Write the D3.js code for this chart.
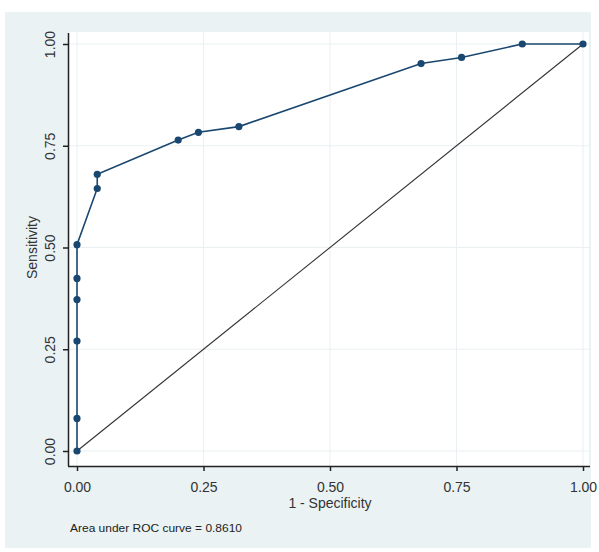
<!DOCTYPE html>
<html>
<head>
<meta charset="utf-8">
<script src="https://cdn.jsdelivr.net/npm/d3@7"></script>
<style>
  body { margin: 0; background: #fff; }
  text { font-family: Arial, "Liberation Sans", sans-serif; }
</style>
</head>
<body>
<div id="chart"></div>
<script>
// data
const fpr = [0, 0, 0, 0, 0, 0, 0.04, 0.04, 0.2, 0.24, 0.32, 0.68, 0.76, 0.88, 1]
const tpr = [0, 0.08, 0.27, 0.372, 0.424, 0.507, 0.645, 0.68, 0.764, 0.783, 0.797, 0.952, 0.967, 1, 1]
const tickValues = [0, 0.25, 0.5, 0.75, 1]
const aucLabel = 'Area under ROC curve = 0.8610'

const points = fpr.map((f, i) => ({ x: f, y: tpr[i] }))

// size
const W = 599
const H = 552
const navy = '#1a476f'

// scale
const x = d3.scaleLinear().domain([0, 1]).range([77, 583])
const y = d3.scaleLinear().domain([0, 1]).range([451, 44])

const svg = d3
  .select('#chart')
  .append('svg')
  .attr('width', W)
  .attr('height', H)

// graph region
svg
  .append('rect')
  .attr('x', 5)
  .attr('y', 12)
  .attr('width', 586)
  .attr('height', 536)
  .attr('fill', '#eaf2f3')

// plot region
svg
  .append('rect')
  .attr('x', 69)
  .attr('y', 32)
  .attr('width', 520)
  .attr('height', 434)
  .attr('fill', '#ffffff')

// grid
const grid = svg.append('g').attr('stroke', '#eaf0f2').attr('stroke-width', 1)
tickValues.forEach(t => {
  grid
    .append('line')
    .attr('x1', 69)
    .attr('x2', 589)
    .attr('y1', y(t))
    .attr('y2', y(t))
  grid
    .append('line')
    .attr('x1', x(t))
    .attr('x2', x(t))
    .attr('y1', 32)
    .attr('y2', 466)
})

// x-axis
const xAxis = svg
  .append('g')
  .attr('transform', 'translate(0, 466)')
  .call(
    d3
      .axisBottom(x)
      .tickValues(tickValues)
      .tickFormat(d3.format('.2f'))
      .tickSize(5)
      .tickPadding(11)
      .tickSizeOuter(0),
  )
xAxis.select('.domain').attr('d', 'M68,0.5H590').attr('stroke', '#222').attr('stroke-width', 1.5)
xAxis.selectAll('.tick line').attr('stroke', '#222').attr('stroke-width', 1.5)
xAxis
  .selectAll('.tick text')
  .attr('font-size', 14)
  .attr('fill', '#333')
  .attr('font-family', 'Arial, "Liberation Sans", sans-serif')

// y-axis
const yAxis = svg
  .append('g')
  .attr('transform', 'translate(68, 0)')
  .call(
    d3
      .axisLeft(y)
      .tickValues(tickValues)
      .tickFormat(d3.format('.2f'))
      .tickSize(5)
      .tickSizeOuter(0),
  )
yAxis.select('.domain').attr('d', 'M0.5,33V466').attr('stroke', '#222').attr('stroke-width', 1.5)
yAxis.selectAll('.tick line').attr('stroke', '#222').attr('stroke-width', 1.5)
yAxis
  .selectAll('.tick text')
  .attr('font-size', 14)
  .attr('fill', '#333')
  .attr('font-family', 'Arial, "Liberation Sans", sans-serif')
  .attr('text-anchor', 'middle')
  .attr('dy', null)
  .attr('x', 0)
  .attr('y', 0)
  .attr('transform', 'translate(-13, 0) rotate(-90)')

// axis titles
svg
  .append('text')
  .attr('text-anchor', 'middle')
  .attr('font-size', 14)
  .attr('fill', '#333')
  .attr('transform', `translate(37, ${y(0.5)}) rotate(-90)`)
  .text('Sensitivity')

svg
  .append('text')
  .attr('text-anchor', 'middle')
  .attr('font-size', 14)
  .attr('fill', '#333')
  .attr('x', x(0.5))
  .attr('y', 508)
  .text('1 - Specificity')

// reference line
svg
  .append('line')
  .attr('x1', x(0))
  .attr('y1', y(0))
  .attr('x2', x(1))
  .attr('y2', y(1))
  .attr('stroke', '#333')
  .attr('stroke-width', 1.1)

// roc curve
const line = d3
  .line()
  .x(d => x(d.x))
  .y(d => y(d.y))

svg
  .append('path')
  .datum(points)
  .attr('d', line)
  .attr('fill', 'none')
  .attr('stroke', navy)
  .attr('stroke-width', 1.6)

svg
  .selectAll('circle.point')
  .data(points)
  .enter()
  .append('circle')
  .attr('class', 'point')
  .attr('cx', d => x(d.x))
  .attr('cy', d => y(d.y))
  .attr('r', 3.6)
  .attr('fill', navy)

// note
svg
  .append('text')
  .attr('font-size', 11)
  .attr('fill', '#222')
  .attr('x', 70)
  .attr('y', 532)
  .attr('textLength', 172)
  .attr('lengthAdjust', 'spacingAndGlyphs')
  .text(aucLabel)
</script>
</body>
</html>
